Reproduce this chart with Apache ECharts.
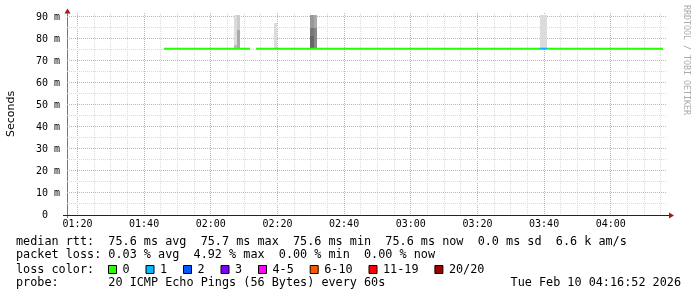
<!DOCTYPE html>
<html><head><meta charset="utf-8">
<script src="https://cdn.jsdelivr.net/npm/echarts@6/dist/echarts.min.js"></script>
<style>html,body{margin:0;padding:0;background:#fff}#c{width:697px;height:297px}</style>
</head><body><div id="c"></div>
<script>
// ---------------- data ----------------
const viewStart = '01:16:52';
const viewEnd = '04:16:52';
const timeLabels = ['01:20','01:40','02:00','02:20','02:40','03:00','03:20','03:40','04:00'];
const yMax = 91.8;                       // ms
const yMajorTicks = [0,10,20,30,40,50,60,70,80,90];
const yMinorTicks = [5,15,25,35,45,55,65,75,85];
// median rtt segments: [start, end, median ms, lost pings class]
const medianSegments = [
  ['01:45:52','02:11:52',75.6,0],
  ['02:13:34','03:38:52',75.6,0],
  ['03:38:52','03:40:52',75.6,1],
  ['03:40:52','04:15:40',75.6,0]
];
// smoke bands: [start, end, low ms, high ms, density]
const smokeBands = [
  ['02:06:52','02:07:52',75.6,77.3,3],
  ['02:06:52','02:07:52',77.3,90.9,1],
  ['02:07:52','02:08:52',75.6,84.1,4],
  ['02:07:52','02:08:52',84.1,90.9,2],
  ['02:18:52','02:19:52',75.6,87.3,1],
  ['02:29:52','02:30:52',75.6,81.4,8],
  ['02:29:52','02:30:52',81.4,84.9,7],
  ['02:29:52','02:30:52',84.9,90.9,5],
  ['02:30:52','02:31:52',75.6,84.9,6],
  ['02:30:52','02:31:52',84.9,90.9,4],
  ['03:38:52','03:40:52',75.6,90.9,1]
];
const lossLabels = ['0','1','2','3','4-5','6-10','11-19','20/20'];
const lossColors = ['#26ff00','#00b8ff','#0059ff','#7e00ff','#ff00ff','#ff5500','#ff0000','#a10000'];
const rttLine = 'median rtt:  75.6 ms avg  75.7 ms max  75.6 ms min  75.6 ms now  0.0 ms sd  6.6 k am/s';
const lossLine = 'packet loss: 0.03 % avg  4.92 % max  0.00 % min  0.00 % now';
const probeLine = 'probe:       20 ICMP Echo Pings (56 Bytes) every 60s';
const stampText = 'Tue Feb 10 04:16:52 2026';

// ---------------- helpers ----------------
const toMin = s => { const p = s.split(':').map(Number); return p[0]*60 + p[1] + (p[2]||0)/60; };
const pad = n => (n<10?'0':'') + n;
const fmtHM = m => pad(Math.floor(Math.round(m)/60)) + ':' + pad(Math.round(m)%60);
const smokeShades = ['#ffffff','#dcdcdc','#cccccc','#bbbbbb','#aaaaaa','#999999','#888888','#777777','#666666'];
const MAJ = '#e6a6a6', MIN = '#dadada';
const MONO = '"DejaVu Sans Mono", monospace';

const xMajor = timeLabels.map(toMin);
const xMinor = [];
for (let m = xMajor[0] - 20; m <= toMin(viewEnd); m += 5) {
  if (m > toMin(viewStart) && !xMajor.includes(m)) xMinor.push(m);
}

const GL = 67, GT = 13, GW = 600, GH = 202;

const chart = echarts.init(document.getElementById('c'), null, {renderer: 'canvas'});

const graphics = [];
const rowY = [241.7, 255.3, 269.5, 283.3];
graphics.push({type:'text', x:16, y:rowY[0], style:{text:rttLine, font:'11.8px '+MONO, fill:'#000', verticalAlign:'middle'}});
graphics.push({type:'text', x:16, y:rowY[1], style:{text:lossLine, font:'11.8px '+MONO, fill:'#000', verticalAlign:'middle'}});
graphics.push({type:'text', x:16, y:rowY[2], style:{text:'loss color:', font:'11.8px '+MONO, fill:'#000', verticalAlign:'middle'}});
graphics.push({type:'text', x:16, y:rowY[3], style:{text:probeLine, font:'11.8px '+MONO, fill:'#000', verticalAlign:'middle'}});
graphics.push({type:'text', x:681, y:rowY[3], style:{text:stampText, font:'11.8px '+MONO, fill:'#000', align:'right', verticalAlign:'middle'}});
let bx = 108;
lossLabels.forEach((lab, i) => {
  graphics.push({type:'rect', shape:{x:bx+0.5, y:265.5, width:8, height:8}, style:{fill:lossColors[i], stroke:'#000', lineWidth:1}});
  graphics.push({type:'text', x:bx+14.5, y:rowY[2], style:{text:lab, font:'11.8px '+MONO, fill:'#000', verticalAlign:'middle'}});
  bx += 14.5 + lab.length*7.1 + 15.9;
});
// watermark
graphics.push({type:'text', x:686, y:60, rotation:-Math.PI/2, style:{text:'RRDTOOL / TOBI OETIKER', font:'8.3px '+MONO, fill:'#aaaaaa', align:'center', verticalAlign:'middle'}});
// axis extensions and arrows
graphics.push({type:'line', shape:{x1:GL-4, y1:GT+GH+0.5, x2:GL+GW+3, y2:GT+GH+0.5}, style:{stroke:'#222', lineWidth:1}});
graphics.push({type:'line', shape:{x1:GL+0.5, y1:GT, x2:GL+0.5, y2:GT+GH+3}, style:{stroke:'#777', lineWidth:1}});
graphics.push({type:'polygon', shape:{points:[[GL+GW+2,GT+GH-2.5],[GL+GW+2,GT+GH+3.5],[GL+GW+7,GT+GH+0.5]]}, style:{fill:'#a01818'}});
graphics.push({type:'polygon', shape:{points:[[GL-2.5,GT+0.5],[GL+3.5,GT+0.5],[GL+0.5,GT-4.5]]}, style:{fill:'#a01818'}});

const option = {
  animation: false,
  backgroundColor: '#ffffff',
  grid: {left: GL, top: GT, width: GW, height: GH, containLabel: false, outerBoundsMode: 'none'},
  xAxis: {
    type: 'value', min: toMin(viewStart), max: toMin(viewEnd),
    axisLine: {show: true, lineStyle: {color: '#222', width: 1}},
    axisTick: {show: false},
    splitLine: {show: false},
    axisLabel: {customValues: xMajor, formatter: v => fmtHM(v), fontFamily: 'DejaVu Sans Mono', fontSize: 10, color: '#000', margin: 4}
  },
  yAxis: {
    type: 'value', min: 0, max: yMax,
    name: 'Seconds', nameLocation: 'middle', nameRotate: 90, nameGap: 50,
    nameTextStyle: {fontFamily: 'DejaVu Sans', fontSize: 11, color: '#000'},
    axisLine: {show: true, lineStyle: {color: '#777', width: 1}},
    axisTick: {show: false},
    splitLine: {show: false},
    axisLabel: {customValues: yMajorTicks, formatter: v => v === 0 ? '0  ' : (v + ' m'), fontFamily: 'DejaVu Sans Mono', fontSize: 10, color: '#000', margin: 7}
  },
  series: [
    {
      type: 'custom', name: 'xgrid', silent: true, z: 1,
      data: xMinor.map(v => [v, 0]).concat(xMajor.map(v => [v, 1])),
      encode: {x: 0},
      renderItem(params, api) {
        const x = Math.floor(api.coord([api.value(0), 0])[0]) + 0.5;
        const cs = params.coordSys;
        return {type: 'line', shape: {x1: x, y1: cs.y, x2: x, y2: cs.y + cs.height}, style: {stroke: api.value(1) ? MAJ : MIN, lineWidth: 1, lineDash: [1, 1]}};
      }
    },
    {
      type: 'custom', name: 'ygrid', silent: true, z: 1,
      data: yMinorTicks.map(v => [toMin(viewStart), v, 0]).concat(yMajorTicks.filter(v => v > 0).map(v => [toMin(viewStart), v, 1])),
      encode: {x: 0, y: 1},
      renderItem(params, api) {
        const y = Math.floor(api.coord([api.value(0), api.value(1)])[1]) + 0.5;
        const cs = params.coordSys;
        return {type: 'line', shape: {x1: cs.x, y1: y, x2: cs.x + cs.width, y2: y}, style: {stroke: api.value(2) ? MAJ : MIN, lineWidth: 1, lineDash: [1, 1]}};
      }
    },
    {
      type: 'custom', name: 'smoke', silent: true, z: 3,
      data: smokeBands.map(b => [toMin(b[0]), toMin(b[1]), b[2], b[3], b[4]]),
      encode: {x: [0, 1], y: [2, 3]},
      renderItem(params, api) {
        const p0 = api.coord([api.value(0), api.value(3)]);
        const p1 = api.coord([api.value(1), api.value(2)]);
        const x0 = Math.round(p0[0]), x1 = Math.round(p1[0]);
        const y0 = Math.round(p0[1]), y1 = Math.round(p1[1]);
        return {type: 'rect', shape: {x: x0, y: y0, width: x1 - x0, height: y1 - y0}, style: {fill: smokeShades[api.value(4)]}};
      }
    },
    {
      type: 'custom', name: 'median', silent: true, z: 4,
      data: medianSegments.map(s => [toMin(s[0]), toMin(s[1]), s[2], s[3]]),
      encode: {x: [0, 1], y: 2},
      renderItem(params, api) {
        const p0 = api.coord([api.value(0), api.value(2)]);
        const p1 = api.coord([api.value(1), api.value(2)]);
        return {type: 'line', shape: {x1: Math.round(p0[0]), y1: p0[1], x2: Math.round(p1[0]), y2: p1[1]}, style: {stroke: lossColors[api.value(3)], lineWidth: 2}};
      }
    }
  ],
  graphic: graphics
};
chart.setOption(option);
</script>
</body></html>
